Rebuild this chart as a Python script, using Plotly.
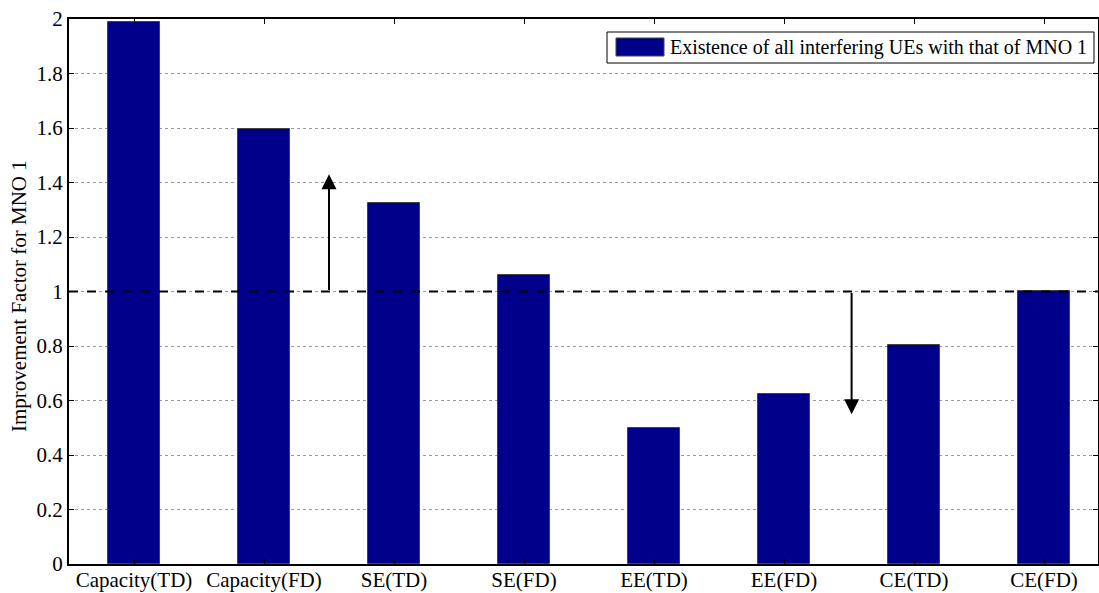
import plotly.graph_objects as go

# Metrics and improvement factors for MNO 1
categories = ["Capacity(TD)", "Capacity(FD)", "SE(TD)", "SE(FD)",
              "EE(TD)", "EE(FD)", "CE(TD)", "CE(FD)"]
improvement = [1.99, 1.595, 1.325, 1.062, 0.50, 0.625, 0.805, 1.003]
series_name = "Existence of all interfering UEs with that of MNO 1"

# Reference level and the two trend arrows (x in category units, y in factor units)
reference_level = 1.0
arrow_up = dict(x=2.5, y_from=1.0, y_to=1.43)
arrow_down = dict(x=6.52, y_from=1.0, y_to=0.55)

y_ticks = [0, 0.2, 0.4, 0.6, 0.8, 1.0, 1.2, 1.4, 1.6, 1.8, 2.0]

FONT = "Liberation Serif"
BAR_COLOR = "#00008B"

x_pos = list(range(1, len(categories) + 1))

fig = go.Figure()
fig.add_trace(go.Bar(
    x=x_pos,
    y=improvement,
    width=0.4,
    name=series_name,
    marker=dict(color=BAR_COLOR, line=dict(color="#444444", width=1)),
    showlegend=False,
))

# Horizontal dashed reference line at factor 1
fig.add_shape(type="line", xref="paper", x0=0, x1=1, yref="y",
              y0=reference_level, y1=reference_level,
              line=dict(color="black", width=2, dash="dash"), layer="above")

# Arrows showing the direction of improvement / degradation
for a in (arrow_up, arrow_down):
    fig.add_annotation(x=a["x"], y=a["y_to"], ax=a["x"], ay=a["y_from"],
                       xref="x", yref="y", axref="x", ayref="y",
                       text="", showarrow=True, arrowhead=2, arrowsize=1.5,
                       arrowwidth=2, arrowcolor="black")

# Legend box drawn by hand so the swatch has the wide rectangular shape
fig.add_shape(type="rect", xref="paper", yref="paper",
              x0=(607 - 69) / 1029, x1=(1094 - 69) / 1029,
              y0=(564 - 63) / 545, y1=(564 - 32) / 545,
              line=dict(color="black", width=1), fillcolor="white", layer="above")
fig.add_shape(type="rect", xref="paper", yref="paper",
              x0=(616 - 69) / 1029, x1=(664 - 69) / 1029,
              y0=(564 - 56) / 545, y1=(564 - 38) / 545,
              line=dict(color="#444444", width=1), fillcolor=BAR_COLOR, layer="above")
fig.add_annotation(xref="paper", yref="paper",
                   x=(668 - 69) / 1029, y=(564 - 47.5) / 545,
                   xanchor="left", yanchor="middle", showarrow=False,
                   text=series_name, font=dict(family=FONT, size=20, color="black"))

# Y-axis title
fig.add_annotation(xref="paper", yref="paper", x=(19 - 69) / 1029, y=(564 - 296) / 545,
                   xanchor="center", yanchor="middle", showarrow=False,
                   text="Improvement Factor for MNO 1", textangle=-90,
                   font=dict(family=FONT, size=21, color="black"))

fig.update_layout(
    width=1099, height=593,
    margin=dict(l=69, r=1, t=19, b=29, autoexpand=False),
    paper_bgcolor="white", plot_bgcolor="white",
    font=dict(family=FONT, size=21, color="black"),
    bargap=0,
    xaxis=dict(
        range=[0.5, 0.5 + 1029 / 130],
        tickmode="array", tickvals=x_pos, ticktext=categories,
        ticks="inside", ticklen=5, tickwidth=1, tickcolor="black",
        ticklabelstandoff=-4,
        showline=True, linecolor="black", linewidth=2, mirror="ticks",
        showgrid=False, zeroline=False, automargin=False,
    ),
    yaxis=dict(
        range=[0, 2],
        tickmode="array", tickvals=y_ticks,
        ticks="inside", ticklen=5, tickwidth=1, tickcolor="black",
        showline=True, linecolor="black", linewidth=2, mirror="ticks",
        showgrid=True, gridcolor="#9a9a9a", gridwidth=1, griddash="dot",
        zeroline=False, automargin=False,
    ),
)

fig.write_html("out.html")
